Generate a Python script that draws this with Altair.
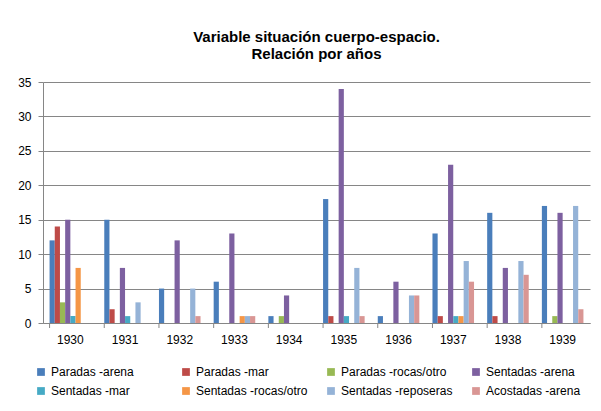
import altair as alt
import pandas as pd

years = ["1930", "1931", "1932", "1933", "1934", "1935", "1936", "1937", "1938", "1939"]
series = [
    "Paradas -arena", "Paradas -mar", "Paradas -rocas/otro", "Sentadas -arena",
    "Sentadas -mar", "Sentadas -rocas/otro", "Sentadas -reposeras", "Acostadas -arena",
]
colors = ["#4A7EBB", "#BE4B48", "#98B954", "#7D60A0", "#46AAC5", "#F59646", "#95B3D7", "#D99694"]

paradas_arena = [12, 15, 5, 6, 1, 18, 1, 13, 16, 17]
paradas_mar = [14, 2, 0, 0, 0, 1, 0, 1, 1, 0]
paradas_rocas = [3, 0, 0, 0, 1, 0, 0, 0, 0, 1]
sentadas_arena = [15, 8, 12, 13, 4, 34, 6, 23, 8, 16]
sentadas_mar = [1, 1, 0, 0, 0, 1, 0, 1, 0, 0]
sentadas_rocas = [8, 0, 0, 1, 0, 0, 0, 1, 0, 0]
sentadas_reposeras = [0, 3, 5, 1, 0, 8, 4, 9, 9, 17]
acostadas_arena = [0, 0, 1, 1, 0, 1, 4, 6, 7, 2]

values = [paradas_arena, paradas_mar, paradas_rocas, sentadas_arena,
          sentadas_mar, sentadas_rocas, sentadas_reposeras, acostadas_arena]

rows = []
for s, vals in zip(series, values):
    for y, v in zip(years, vals):
        rows.append({"year": y, "series": s, "value": v})
df = pd.DataFrame(rows)

W, H = 547, 241
font = "Liberation Sans"
gray = "#868686"

bars = alt.Chart(df).mark_bar().encode(
    x=alt.X("year:N", sort=years,
            scale=alt.Scale(paddingInner=0.24, paddingOuter=0.12),
            axis=alt.Axis(title=None, labelAngle=0, ticks=False, domainColor=gray,
                          labelFontSize=12, labelFont=font, labelColor="#000000",
                          labelPadding=11)),
    xOffset=alt.XOffset("series:N", sort=series,
                        scale=alt.Scale(paddingInner=0, paddingOuter=0)),
    y=alt.Y("value:Q", scale=alt.Scale(domain=[0, 35]),
            axis=alt.Axis(values=list(range(0, 36, 5)), title=None, grid=True,
                          gridColor=gray, tickColor=gray, tickSize=5, domainColor=gray,
                          labelFontSize=12, labelFont=font, labelColor="#000000",
                          labelPadding=7)),
    color=alt.Color("series:N", sort=series,
                    scale=alt.Scale(domain=series, range=colors),
                    legend=alt.Legend(title=None, orient="none", legendX=-8, legendY=284,
                                      direction="horizontal",
                                      columns=4, gridAlign="all", symbolType="square",
                                      symbolSize=60, symbolStrokeWidth=0,
                                      labelFontSize=12, labelFont=font,
                                      labelColor="#000000", columnPadding=17,
                                      rowPadding=7, labelLimit=200)),
)

ticks = alt.Chart(pd.DataFrame({"year": years})).mark_rule(color=gray).encode(
    x=alt.X("year:N", sort=years, bandPosition=0),
    y=alt.value(H),
    y2=alt.value(H + 5),
)

chart = alt.layer(bars, ticks).properties(
    width=W, height=H,
    title=alt.TitleParams(["Variable situación cuerpo-espacio.", "Relación por años"],
                          font=font, fontSize=15, fontWeight="bold", color="#000000",
                          anchor="middle", offset=14, lineHeight=17),
    padding={"left": 35, "top": 74, "right": 3, "bottom": 80},
    autosize="none",
).configure_view(stroke=None)

chart.save("out.html", embed_options={"renderer": "svg", "actions": False})
